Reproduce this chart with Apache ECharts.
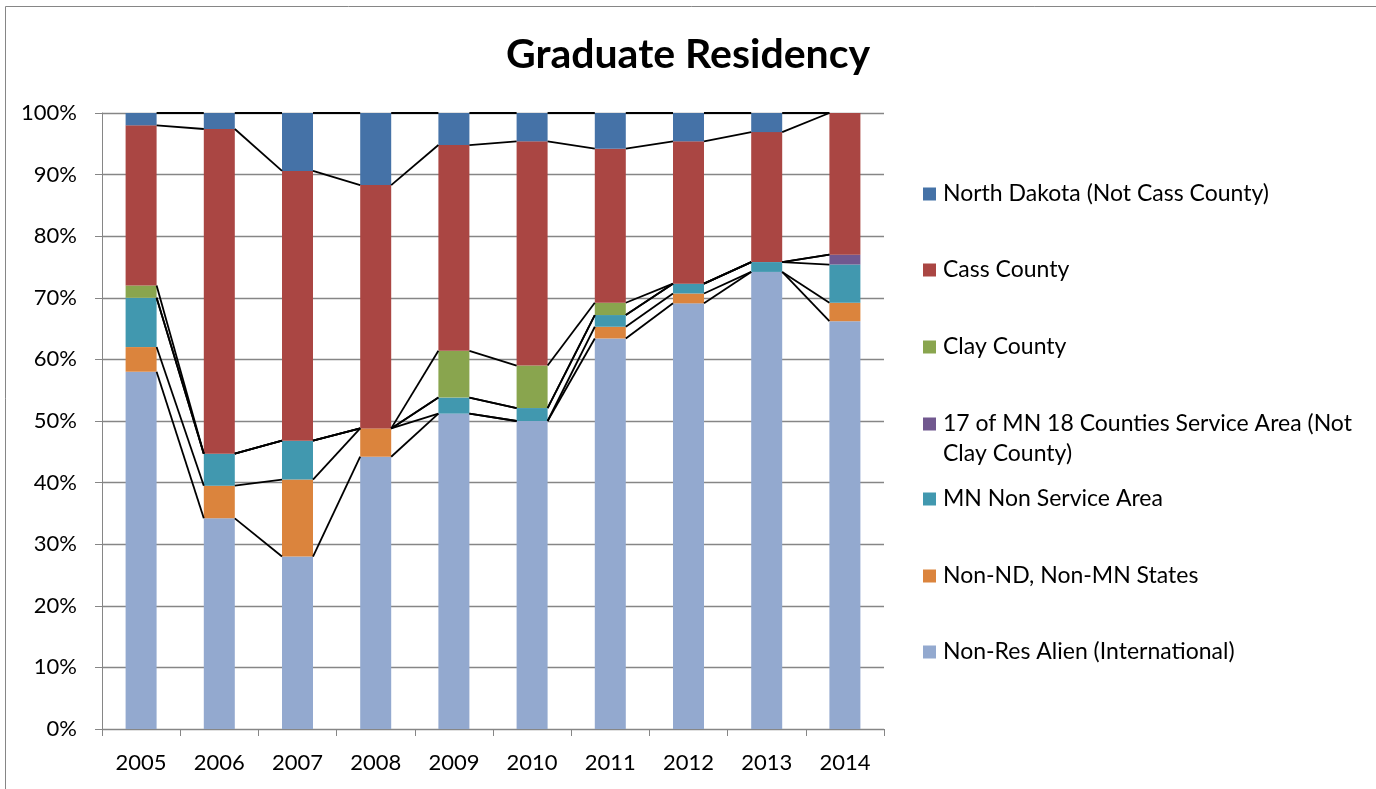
<!DOCTYPE html>
<html>
<head>
<meta charset="utf-8">
<script src="https://cdn.jsdelivr.net/npm/echarts@6/dist/echarts.min.js"></script>
<style>
html,body{margin:0;padding:0;background:#fff;}
#chart{width:1376px;height:789px;}
</style>
</head>
<body>
<div id="chart"></div>
<script>
// ---- Data (percent of graduates by residency) ----
const years = ['2005','2006','2007','2008','2009','2010','2011','2012','2013','2014'];
const nonResAlien   = [58.0, 34.2, 28.0, 44.2, 51.2, 50.0, 63.4, 69.1, 74.2, 66.2];
const nonNdNonMn    = [4.0, 5.3, 12.5, 4.6, 0, 0, 1.9, 1.6, 0, 3.0];
const mnNonService  = [8.0, 5.2, 6.3, 0, 2.6, 2.1, 1.9, 1.6, 1.6, 6.2];
const mn17Counties  = [0, 0, 0, 0, 0, 0, 0, 0, 0, 1.6];
const clayCounty    = [2.0, 0, 0, 0, 7.6, 6.9, 2.0, 0, 0, 0];
const cassCounty    = [26.0, 52.7, 43.8, 39.5, 33.4, 36.4, 25.0, 23.1, 21.1, 23.0];
const northDakota   = [2.0, 2.6, 9.4, 11.7, 5.2, 4.6, 5.8, 4.6, 3.1, 0];
const yTicks = [0,10,20,30,40,50,60,70,80,90,100];

const seriesNames = [
  'Non-Res Alien (International)',
  'Non-ND, Non-MN States',
  'MN Non Service Area',
  '17 of MN 18 Counties Service Area (Not Clay County)',
  'Clay County',
  'Cass County',
  'North Dakota (Not Cass County)'
];
const seriesData = [nonResAlien, nonNdNonMn, mnNonService, mn17Counties, clayCounty, cassCounty, northDakota];
const colors = ['#93A9CF','#DB843D','#4198AF','#71588F','#89A54E','#AA4643','#4572A7'];

// cumulative tops for series lines
const cum = years.map((y, i) => {
  let s = 0;
  return seriesData.map(arr => (s += arr[i]));
});

const BAR_W = 31;
const FONT = 'Lato, "Open Sans", sans-serif';

const series = seriesData.map((arr, k) => ({
  name: seriesNames[k],
  type: 'bar',
  stack: 'total',
  barWidth: BAR_W,
  data: arr,
  itemStyle: { color: colors[k] },
  animation: false
}));

series.push({
  type: 'custom',
  name: 'series-lines',
  silent: true,
  animation: false,
  z: 5,
  data: years.slice(0, -1).map((y, i) => [i, 0]),
  encode: { x: 0, y: 1 },
  renderItem: function (params, api) {
    const i = api.value(0);
    const half = BAR_W / 2;
    const children = [];
    for (let k = 0; k < seriesData.length; k++) {
      const p1 = api.coord([i, cum[i][k]]);
      const p2 = api.coord([i + 1, cum[i + 1][k]]);
      children.push({
        type: 'line',
        shape: { x1: p1[0] + half, y1: p1[1], x2: p2[0] - half, y2: p2[1] },
        style: { stroke: '#000', lineWidth: 1.8 }
      });
    }
    return { type: 'group', children: children };
  }
});

// legend placement (top of each legend box), order as in reference
const legendTops = [
  [6, 179], [5, 255], [4, 332], [3, 409], [2, 484], [1, 561], [0, 637]
];
const legends = legendTops.map(([k, top]) => {
  const isTwoLine = k === 3;
  return {
    orient: 'vertical',
    left: 923,
    top: top,
    padding: 0,
    itemGap: 0,
    itemWidth: 13,
    itemHeight: isTwoLine ? 43 : 13,
    icon: isTwoLine ? 'path://M0 0L13 0L13 13L0 13Z M0 43L13 43' : 'rect',
    itemStyle: { borderWidth: 0 },
    selectedMode: false,
    data: [seriesNames[k]],
    formatter: isTwoLine ? () => '17 of MN 18 Counties Service Area (Not\nClay County)' : undefined,
    textStyle: { fontFamily: FONT, fontSize: 23, color: '#000', lineHeight: 30, padding: [0, 0, 0, 2] }
  };
});

const option = {
  backgroundColor: '#fff',
  animation: false,
  title: {
    text: 'Graduate Residency',
    left: 'center',
    top: 29,
    textStyle: { fontFamily: FONT, fontWeight: 'bold', fontSize: 41, color: '#000' }
  },
  legend: legends,
  graphic: [{
    type: 'rect',
    shape: { x: 5.5, y: 6.5, width: 1400, height: 800 },
    style: { fill: 'none', stroke: '#868686', lineWidth: 1 },
    silent: true
  }],
  grid: { left: 102, right: 492, top: 113, bottom: 60, containLabel: false },
  xAxis: {
    type: 'category',
    data: years,
    axisLine: { lineStyle: { color: '#868686', width: 1 } },
    axisTick: { show: true, length: 7, lineStyle: { color: '#868686' } },
    axisLabel: { color: '#000', fontFamily: FONT, fontSize: 22, margin: 23 }
  },
  yAxis: {
    type: 'value',
    min: yTicks[0],
    max: yTicks[yTicks.length - 1],
    interval: 10,
    axisLine: { show: true, lineStyle: { color: '#868686', width: 1 } },
    axisTick: { show: true, length: 7, lineStyle: { color: '#868686' } },
    axisLabel: { color: '#000', fontFamily: FONT, fontSize: 22, margin: 25, formatter: '{value}%' },
    splitLine: { show: true, lineStyle: { color: '#868686', width: 1.3 } }
  },
  series: series
};

const chart = echarts.init(document.getElementById('chart'), null, { renderer: 'canvas' });
chart.setOption(option);
</script>
</body>
</html>
